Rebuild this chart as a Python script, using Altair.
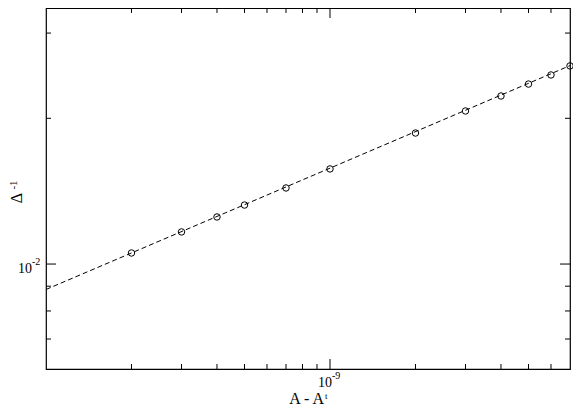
import altair as alt
import pandas as pd

# data points (A - A^t, Delta^-1)
pt_x = [2e-10, 3e-10, 4e-10, 5e-10, 7e-10, 1e-9, 2e-9, 3e-9, 4e-9, 5e-9, 6e-9, 7e-9]
pt_y = [0.01054, 0.01165, 0.01251, 0.01324, 0.01436, 0.01572,
        0.01865, 0.02071, 0.02224, 0.02354, 0.02458, 0.02566]

# dashed fit line endpoints
fit_x = [1e-10, 7e-9]
fit_y = [0.00886, 0.0257]

# tick positions
x_major = [1e-9]
x_minor = [2e-10, 3e-10, 4e-10, 5e-10, 6e-10, 7e-10, 8e-10, 9e-10,
           2e-9, 3e-9, 4e-9, 5e-9, 6e-9]
y_major = [0.01]
y_minor = [0.007, 0.008, 0.009, 0.02, 0.03]

# tick label texts (base and exponent)
x_label_base, x_label_exp = "10", "-9"
y_label_base, y_label_exp = "10", "-2"
x_title_base, x_title_sup = "A - A", "t"
y_title_base, y_title_sup = "\u0394", "-1"

W, H = 524, 361
FONT = "Liberation Serif"

xscale = alt.Scale(type="log", domain=[1e-10, 7e-9], nice=False, zero=False)
yscale = alt.Scale(type="log", domain=[0.00607, 0.0338], nice=False, zero=False)

X = alt.X("x:Q", scale=xscale, axis=None)
Y = alt.Y("y:Q", scale=yscale, axis=None)

pts = pd.DataFrame({"x": pt_x, "y": pt_y})
fit = pd.DataFrame({"x": fit_x, "y": fit_y})

line = alt.Chart(fit).mark_line(color="black", strokeWidth=1, strokeDash=[5, 3]).encode(x=X, y=Y)
circles = alt.Chart(pts).mark_point(shape="circle", filled=False, color="black",
                                    size=42, strokeWidth=1, opacity=1).encode(x=X, y=Y)


def xticks(vals, length):
    d = pd.DataFrame({"x": vals})
    bottom = alt.Chart(d).mark_rule(color="black", strokeWidth=1).encode(
        x=X, y=alt.value(H), y2=alt.value(H - length))
    top = alt.Chart(d).mark_rule(color="black", strokeWidth=1).encode(
        x=X, y=alt.value(0), y2=alt.value(length))
    return [bottom, top]


def yticks(vals, length):
    d = pd.DataFrame({"y": vals})
    left = alt.Chart(d).mark_rule(color="black", strokeWidth=1).encode(
        y=Y, x=alt.value(0), x2=alt.value(length))
    right = alt.Chart(d).mark_rule(color="black", strokeWidth=1).encode(
        y=Y, x=alt.value(W), x2=alt.value(W - length))
    return [left, right]


def txt(df, size, **kw):
    return alt.Chart(df).mark_text(font=FONT, fontSize=size, color="black", **kw)


xl = pd.DataFrame({"x": x_major})
yl = pd.DataFrame({"y": y_major})
one = pd.DataFrame({"a": [0]})

labels = [
    txt(xl, 14, align="right", baseline="alphabetic", dx=2).encode(
        x=X, y=alt.value(H + 18), text=alt.value(x_label_base)),
    txt(xl, 10, align="left", baseline="alphabetic", dx=2).encode(
        x=X, y=alt.value(H + 10), text=alt.value(x_label_exp)),
    txt(yl, 14, align="right", baseline="alphabetic").encode(
        y=Y, x=alt.value(-14), yOffset=alt.value(9), text=alt.value(y_label_base)),
    txt(yl, 10, align="left", baseline="alphabetic").encode(
        y=Y, x=alt.value(-14), yOffset=alt.value(1), text=alt.value(y_label_exp)),
    txt(one, 16, align="right", baseline="alphabetic").encode(
        x=alt.value(278), y=alt.value(H + 35), text=alt.value(x_title_base)),
    txt(one, 9, align="left", baseline="alphabetic").encode(
        x=alt.value(279), y=alt.value(H + 30), text=alt.value(x_title_sup)),
    txt(one, 16, align="center", baseline="middle", angle=270).encode(
        x=alt.value(-29), y=alt.value(190), text=alt.value(y_title_base)),
    txt(one, 11, align="center", baseline="middle", angle=270).encode(
        x=alt.value(-32), y=alt.value(177), text=alt.value(y_title_sup)),
]

layers = (xticks(x_major, 10) + xticks(x_minor, 5) + yticks(y_major, 10)
          + yticks(y_minor, 5) + [line, circles] + labels)

chart = alt.layer(*layers).properties(
    width=W, height=H,
    autosize=alt.AutoSizeParams(type="none"),
    padding={"left": 38, "top": 0, "right": 3, "bottom": 37},
    background="white",
).configure_view(stroke="black", strokeWidth=1.2)

chart.save("out.html", embed_options={"renderer": "svg", "actions": False})
